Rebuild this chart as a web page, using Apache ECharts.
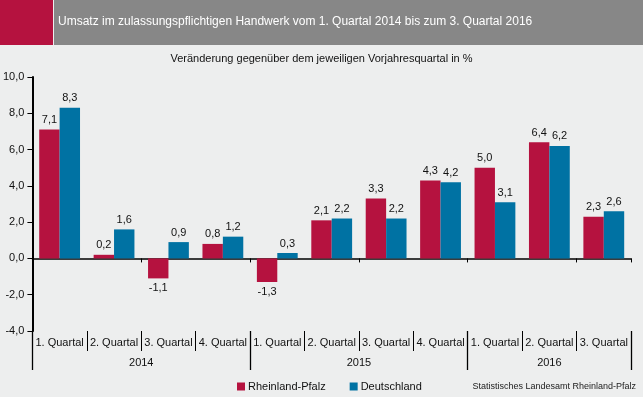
<!DOCTYPE html>
<html>
<head>
<meta charset="utf-8">
<script src="https://cdn.jsdelivr.net/npm/echarts@6/dist/echarts.min.js"></script>
<style>
  html, body { margin: 0; padding: 0; background: #edeeee; }
  #main { width: 643px; height: 397px; }
</style>
</head>
<body>
<div id="main"></div>
<script>
// Quartale und Jahre
var quarters = ['1. Quartal', '2. Quartal', '3. Quartal', '4. Quartal',
    '1. Quartal', '2. Quartal', '3. Quartal', '4. Quartal',
    '1. Quartal', '2. Quartal', '3. Quartal'];
var years = ['2014', '2015', '2016'];
var quartersPerYear = [4, 4, 3];

// Veränderung gegenüber Vorjahresquartal in %
var rheinlandPfalz = [7.1, 0.2, -1.1, 0.8, -1.3, 2.1, 3.3, 4.3, 5.0, 6.4, 2.3];
var deutschland = [8.3, 1.6, 0.9, 1.2, 0.3, 2.2, 2.2, 4.2, 3.1, 6.2, 2.6];

var yTicks = [-4, -2, 0, 2, 4, 6, 8, 10];

var RED = '#b5123f',
    BLUE = '#0072a3';

function fmt(v) {
    return v.toFixed(1).replace('.', ',');
}

// Jahresachse: halbe Kategorie-Schritte, Trennstriche an Jahresgrenzen
var yearSlots = [], yearBounds = [0];
var pos = 0;
for (var i = 0; i < years.length; i++) {
    pos += quartersPerYear[i];
    yearBounds.push(pos * 2);
}
for (var k = 0; k <= quarters.length * 2; k++) yearSlots.push('');
for (var j = 0; j < years.length; j++) {
    yearSlots[yearBounds[j] + quartersPerYear[j]] = years[j];
}

function barData(values) {
    return values.map(function (v) {
        return {
            value: v,
            label: {position: v < 0 ? 'bottom' : 'top'}
        };
    });
}

var chart = echarts.init(document.getElementById('main'));
chart.setOption({
    backgroundColor: '#edeeee',
    animation: false,
    textStyle: {fontFamily: 'Liberation Sans, Arial, sans-serif'},
    graphic: [
        {type: 'rect', shape: {x: 0, y: 0, width: 53, height: 45}, style: {fill: RED}},
        {type: 'rect', shape: {x: 54, y: 0, width: 589, height: 45}, style: {fill: '#878787'}},
        {
            type: 'text', left: 58, top: 16,
            style: {
                text: 'Umsatz im zulassungspflichtigen Handwerk vom 1. Quartal 2014 bis zum 3. Quartal 2016',
                fill: '#ffffff', font: '12px Liberation Sans, Arial, sans-serif'
            }
        },
        {
            type: 'text', left: 'center', top: 53,
            style: {
                text: 'Veränderung gegenüber dem jeweiligen Vorjahresquartal in %',
                fill: '#111111', font: '11px Liberation Sans, Arial, sans-serif'
            }
        },
        {
            type: 'text', right: 7, top: 382,
            style: {
                text: 'Statistisches Landesamt Rheinland-Pfalz',
                fill: '#222222', font: '9px Liberation Sans, Arial, sans-serif'
            }
        }
    ],
    legend: {
        left: 232, top: 376,
        itemWidth: 8, itemHeight: 8, itemGap: 24,
        icon: 'rect',
        textStyle: {fontSize: 11, color: '#111', padding: [0, 0, 0, -2]},
        data: ['Rheinland-Pfalz', 'Deutschland']
    },
    grid: {left: 32, right: 12, top: 77, bottom: 66, containLabel: false},
    xAxis: [
        {
            type: 'category', data: quarters, position: 'bottom',
            axisLine: {onZero: true, lineStyle: {color: '#000', width: 1.5}},
            axisTick: {show: true, length: 4, lineStyle: {color: '#000'}},
            axisLabel: {show: false}
        },
        {
            type: 'category', data: quarters, position: 'bottom',
            axisLine: {show: false, onZero: false},
            axisTick: {show: true, length: 20, lineStyle: {color: '#000'}},
            axisLabel: {show: true, interval: 0, margin: 6, fontSize: 11, color: '#111'}
        },
        {
            type: 'category', data: yearSlots, position: 'bottom', boundaryGap: false,
            axisLine: {show: false, onZero: false},
            axisTick: {
                show: true, length: 39, lineStyle: {color: '#000', width: 1.3},
                interval: function (idx) { return yearBounds.indexOf(idx) >= 0; }
            },
            axisLabel: {show: true, interval: 0, margin: 26, fontSize: 11, color: '#111'}
        }
    ],
    yAxis: {
        type: 'value', min: -4, max: 10, interval: 2,
        axisLine: {show: true, lineStyle: {color: '#000', width: 2}},
        axisTick: {show: true, length: 5, lineStyle: {color: '#000'}},
        splitLine: {show: false},
        axisLabel: {
            margin: 8, fontSize: 11, color: '#111',
            formatter: function (v) {
                return yTicks.indexOf(v) >= 0 ? fmt(v) : '';
            }
        }
    },
    series: [
        {
            name: 'Rheinland-Pfalz', type: 'bar', xAxisIndex: 0,
            data: barData(rheinlandPfalz),
            itemStyle: {color: RED},
            barGap: '0%', barCategoryGap: '25%',
            label: {
                show: true, distance: 4, fontSize: 11, color: '#111',
                formatter: function (p) { return fmt(p.value); }
            }
        },
        {
            name: 'Deutschland', type: 'bar', xAxisIndex: 0,
            data: barData(deutschland),
            itemStyle: {color: BLUE},
            barGap: '0%', barCategoryGap: '25%',
            label: {
                show: true, distance: 4, fontSize: 11, color: '#111',
                formatter: function (p) { return fmt(p.value); }
            }
        }
    ]
});
</script>
</body>
</html>
